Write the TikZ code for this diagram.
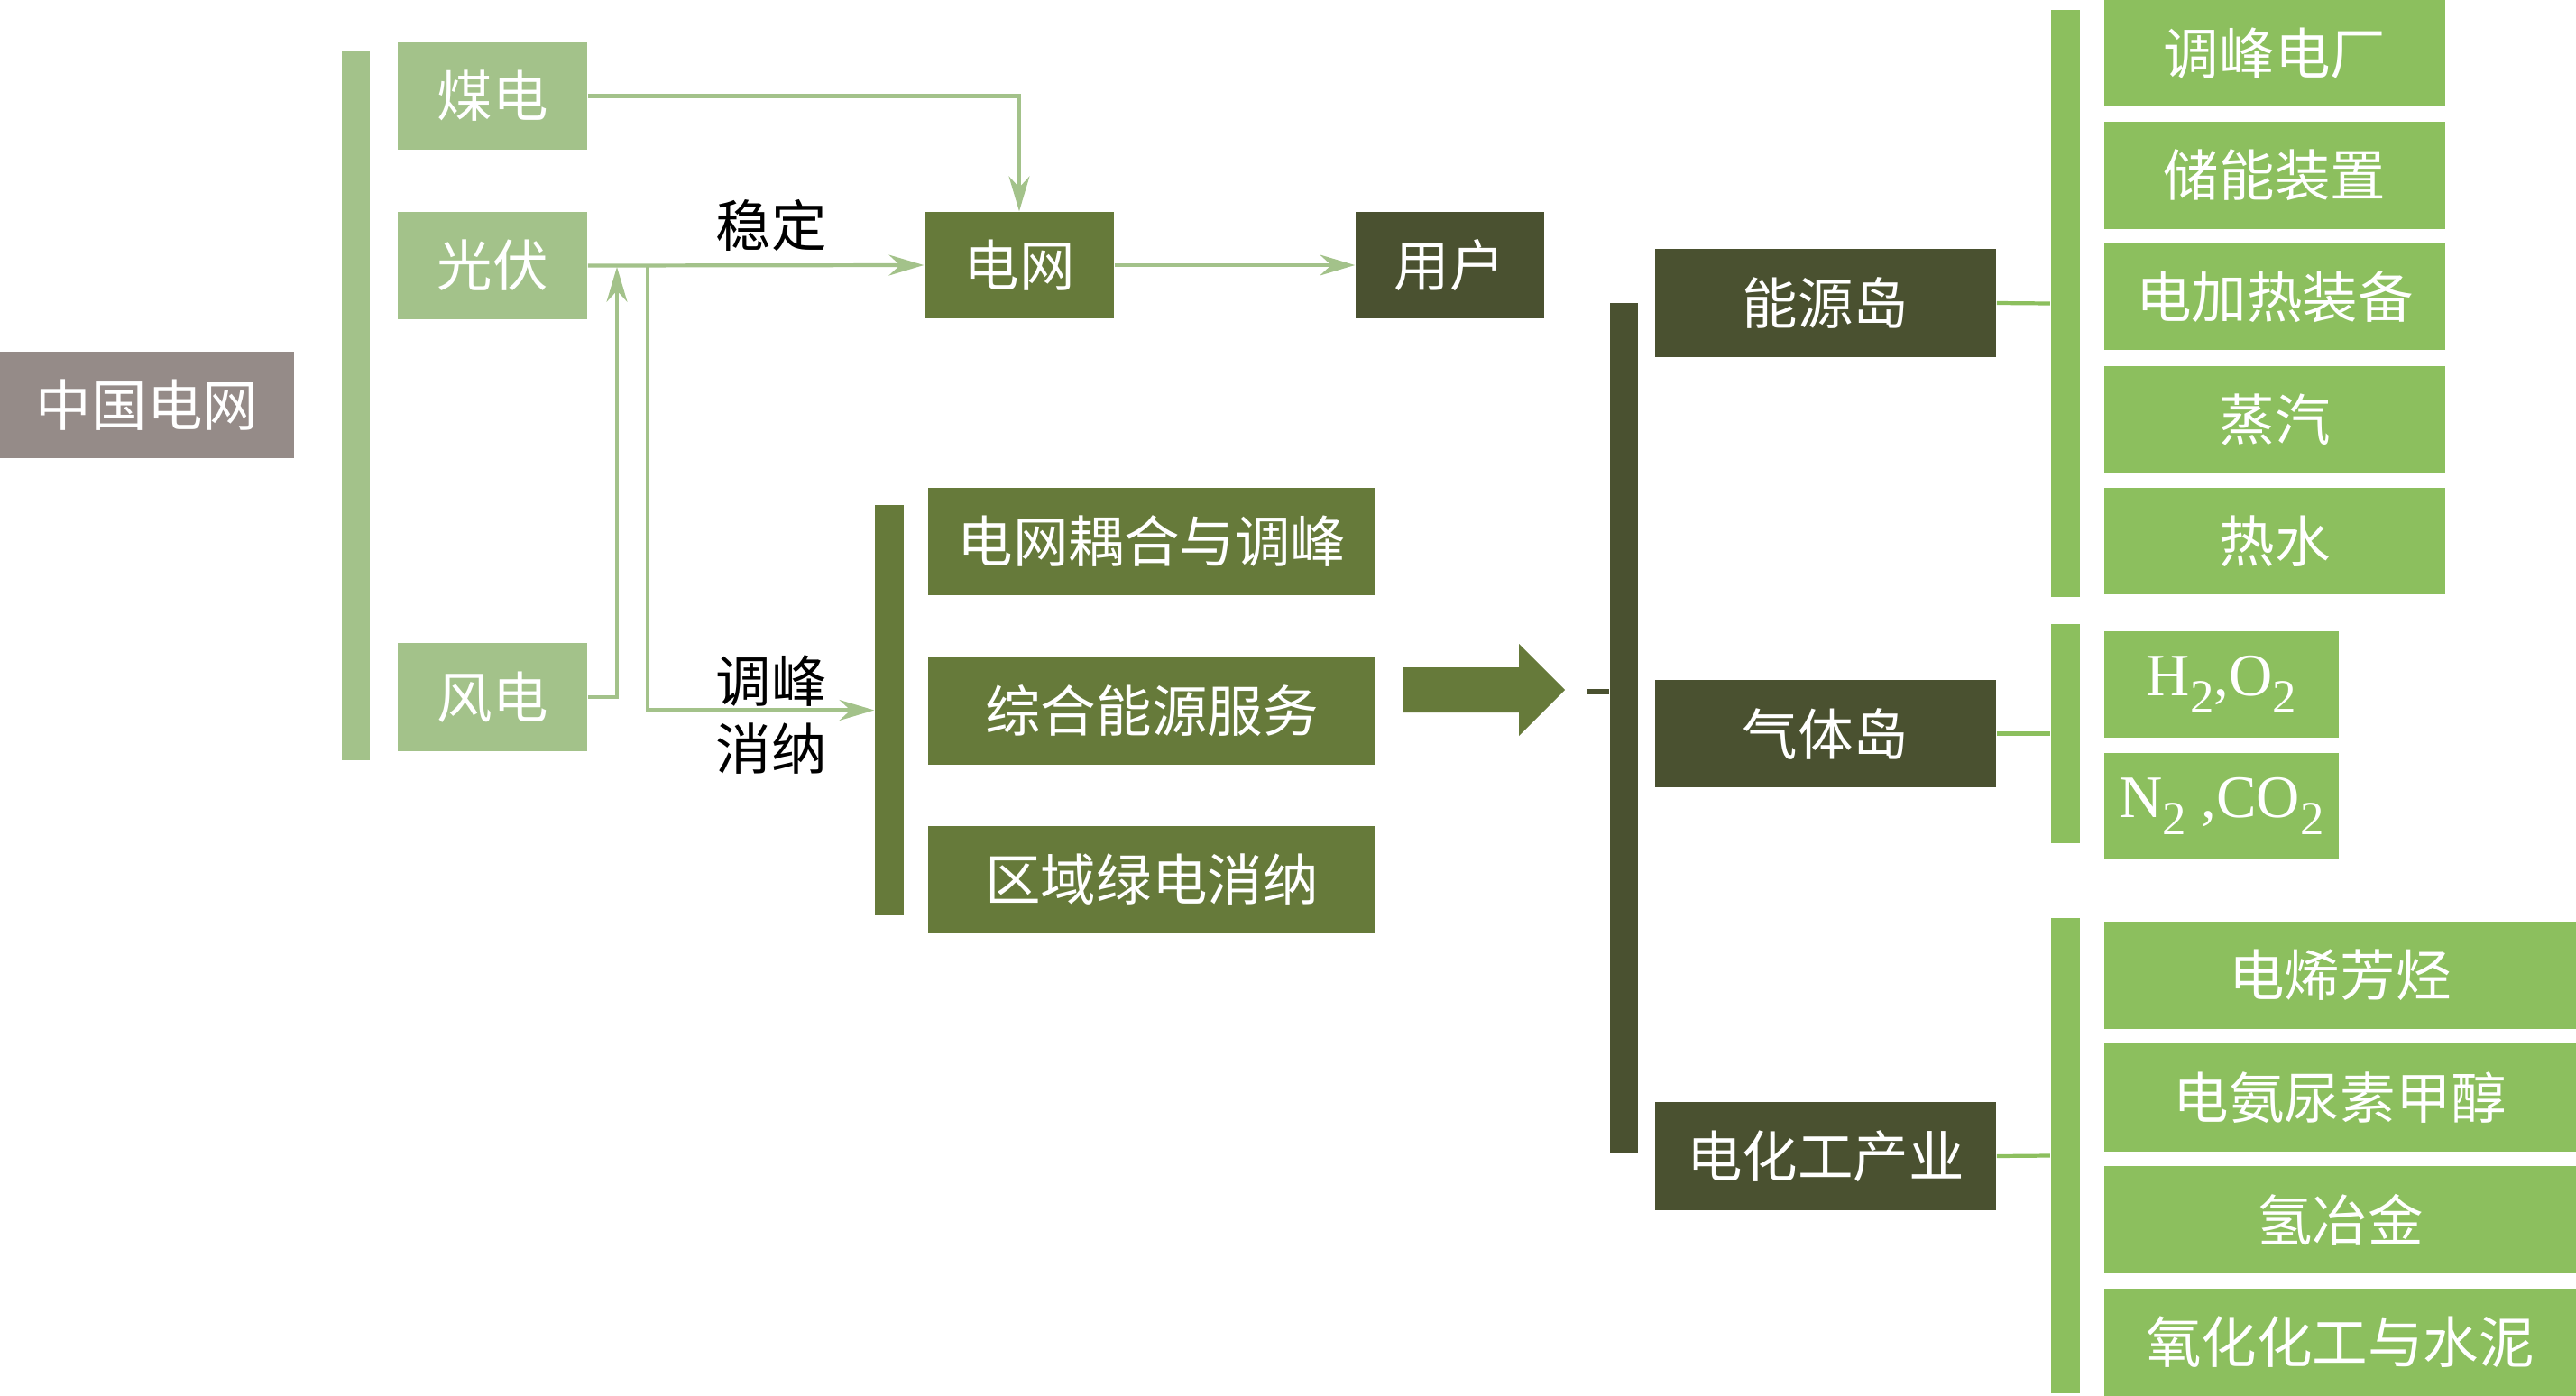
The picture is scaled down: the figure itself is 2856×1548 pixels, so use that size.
\documentclass[tikz,border=0pt]{standalone}
\usepackage{fontspec}
\newfontfamily\cjk{Noto Sans CJK SC}
\newfontfamily\tms{Liberation Serif}
\usetikzlibrary{arrows.meta}
\definecolor{cgray}{HTML}{958B88}
\definecolor{clight}{HTML}{A3C28A}
\definecolor{cmid}{HTML}{667A3A}
\definecolor{cdark}{HTML}{4A5130}
\definecolor{cbright}{HTML}{8CBF5E}
\newcommand{\sub}[1]{\raisebox{-0.28em}{\fontsize{15}{15}\selectfont #1}}
\tikzset{
  box/.style={draw=none, inner sep=0pt, minimum height=1.19cm, text=white,
    font=\cjk\fontsize{17.5}{18}\selectfont},
  bar/.style={draw=none, inner sep=0pt},
  lline/.style={draw=clight, line width=1.2pt},
  rline/.style={draw=cbright, line width=1.2pt},
  tip/.style={-{Stealth[length=11pt,width=6.5pt,inset=3.5pt]}},
  lbl/.style={inner sep=0pt, text=black, font=\cjk\fontsize{17.5}{18}\selectfont}
}
\begin{document}
\begin{tikzpicture}[x=0.01cm,y=-0.01cm]
\useasboundingbox (0,0) rectangle (2856,1548);

% left part
\node[box, fill=cgray, minimum width=3.26cm, minimum height=1.18cm] (zg) at (163,449) {中国电网};
\node[bar, fill=clight, minimum width=0.31cm, minimum height=7.87cm] (leftbar) at (394.5,449.5) {};
\node[box, fill=clight, minimum width=2.10cm] (meidian) at (546,106.5) {煤电};
\node[box, fill=clight, minimum width=2.10cm] (guangfu) at (546,294.5) {光伏};
\node[box, fill=clight, minimum width=2.10cm] (fengdian) at (546,773) {风电};
\node[box, fill=cmid, minimum width=2.10cm, minimum height=1.18cm] (dianwang) at (1130,294) {电网};
\node[box, fill=cdark, minimum width=2.09cm, minimum height=1.18cm] (yonghu) at (1607.5,294) {用户};

\node[bar, fill=cmid, minimum width=0.32cm, minimum height=4.55cm] (midbar) at (986,787.5) {};
\node[box, fill=cmid, minimum width=4.96cm] (m1) at (1277,600.5) {电网耦合与调峰};
\node[box, fill=cmid, minimum width=4.96cm] (m2) at (1277,788) {综合能源服务};
\node[box, fill=cmid, minimum width=4.96cm] (m3) at (1277,975.5) {区域绿电消纳};

\node[lbl] (wending) at (855,250) {稳定};
\node[lbl] (tiaofeng) at (855,755) {调峰};
\node[lbl] (xiaona) at (855,830) {消纳};

% connectors left
\draw[lline, tip] (meidian.east) -| (dianwang.north);
\draw[lline, tip] (guangfu.east) -- (dianwang.west);
\coordinate (j1) at (684,296);
\draw[lline, tip] (fengdian.east) -| (j1);
\coordinate (j2) at (718,294.5);
\draw[lline, tip] (j2) |- (midbar.west);
\draw[lline, tip] (dianwang.east) -- (yonghu.west);

% block arrow
\fill[cmid] (1555,740) -- (1684,740) -- (1684,714) -- (1735,765) -- (1684,816) -- (1684,790) -- (1555,790) -- cycle;

% right part
\node[bar, fill=cdark, minimum width=0.31cm, minimum height=9.43cm] (darkbar) at (1800.5,807.5) {};
\coordinate (d0) at (1759,767);
\draw[cdark, line width=1.8pt] (d0) -- (d0 -| darkbar.west);

\node[box, fill=cdark, minimum width=3.78cm] (ny) at (2024,336) {能源岛};
\node[box, fill=cdark, minimum width=3.78cm] (qt) at (2024,813.5) {气体岛};
\node[box, fill=cdark, minimum width=3.78cm] (dh) at (2024,1282) {电化工产业};

\node[bar, fill=cbright, minimum width=0.32cm, minimum height=6.51cm] (bar1) at (2289.5,336.5) {};
\node[bar, fill=cbright, minimum width=0.32cm, minimum height=2.43cm] (bar2) at (2289.5,813.5) {};
\node[bar, fill=cbright, minimum width=0.32cm, minimum height=5.27cm] (bar3) at (2289.5,1281.5) {};

\draw[rline] (ny.east) -- (bar1.west);
\draw[rline] (qt.east) -- (bar2.west);
\draw[rline] (dh.east) -- (bar3.west);

\node[box, fill=cbright, minimum width=3.78cm, minimum height=1.185cm] (a1) at (2522,59) {调峰电厂};
\node[box, fill=cbright, minimum width=3.78cm, minimum height=1.185cm] (a2) at (2522,194.5) {储能装置};
\node[box, fill=cbright, minimum width=3.78cm, minimum height=1.185cm] (a3) at (2522,329) {电加热装备};
\node[box, fill=cbright, minimum width=3.78cm, minimum height=1.185cm] (a4) at (2522,465) {蒸汽};
\node[box, fill=cbright, minimum width=3.78cm, minimum height=1.185cm] (a5) at (2522,600) {热水};

\node[box, fill=cbright, minimum width=2.595cm, minimum height=1.18cm, font=\tms\fontsize{19}{20}\selectfont] (b1) at (2462.75,759) {H\sub{2},O\sub{2}};
\node[box, fill=cbright, minimum width=2.595cm, minimum height=1.185cm, font=\tms\fontsize{19}{20}\selectfont] (b2) at (2462.75,894) {N\sub{2} ,CO\sub{2}};

\node[box, fill=cbright, minimum width=5.23cm] (c1) at (2594.5,1081.5) {电烯芳烃};
\node[box, fill=cbright, minimum width=5.23cm] (c2) at (2594.5,1217) {电氨尿素甲醇};
\node[box, fill=cbright, minimum width=5.23cm] (c3) at (2594.5,1352.5) {氢冶金};
\node[box, fill=cbright, minimum width=5.23cm] (c4) at (2594.5,1488.5) {氧化化工与水泥};
\end{tikzpicture}
\end{document}
